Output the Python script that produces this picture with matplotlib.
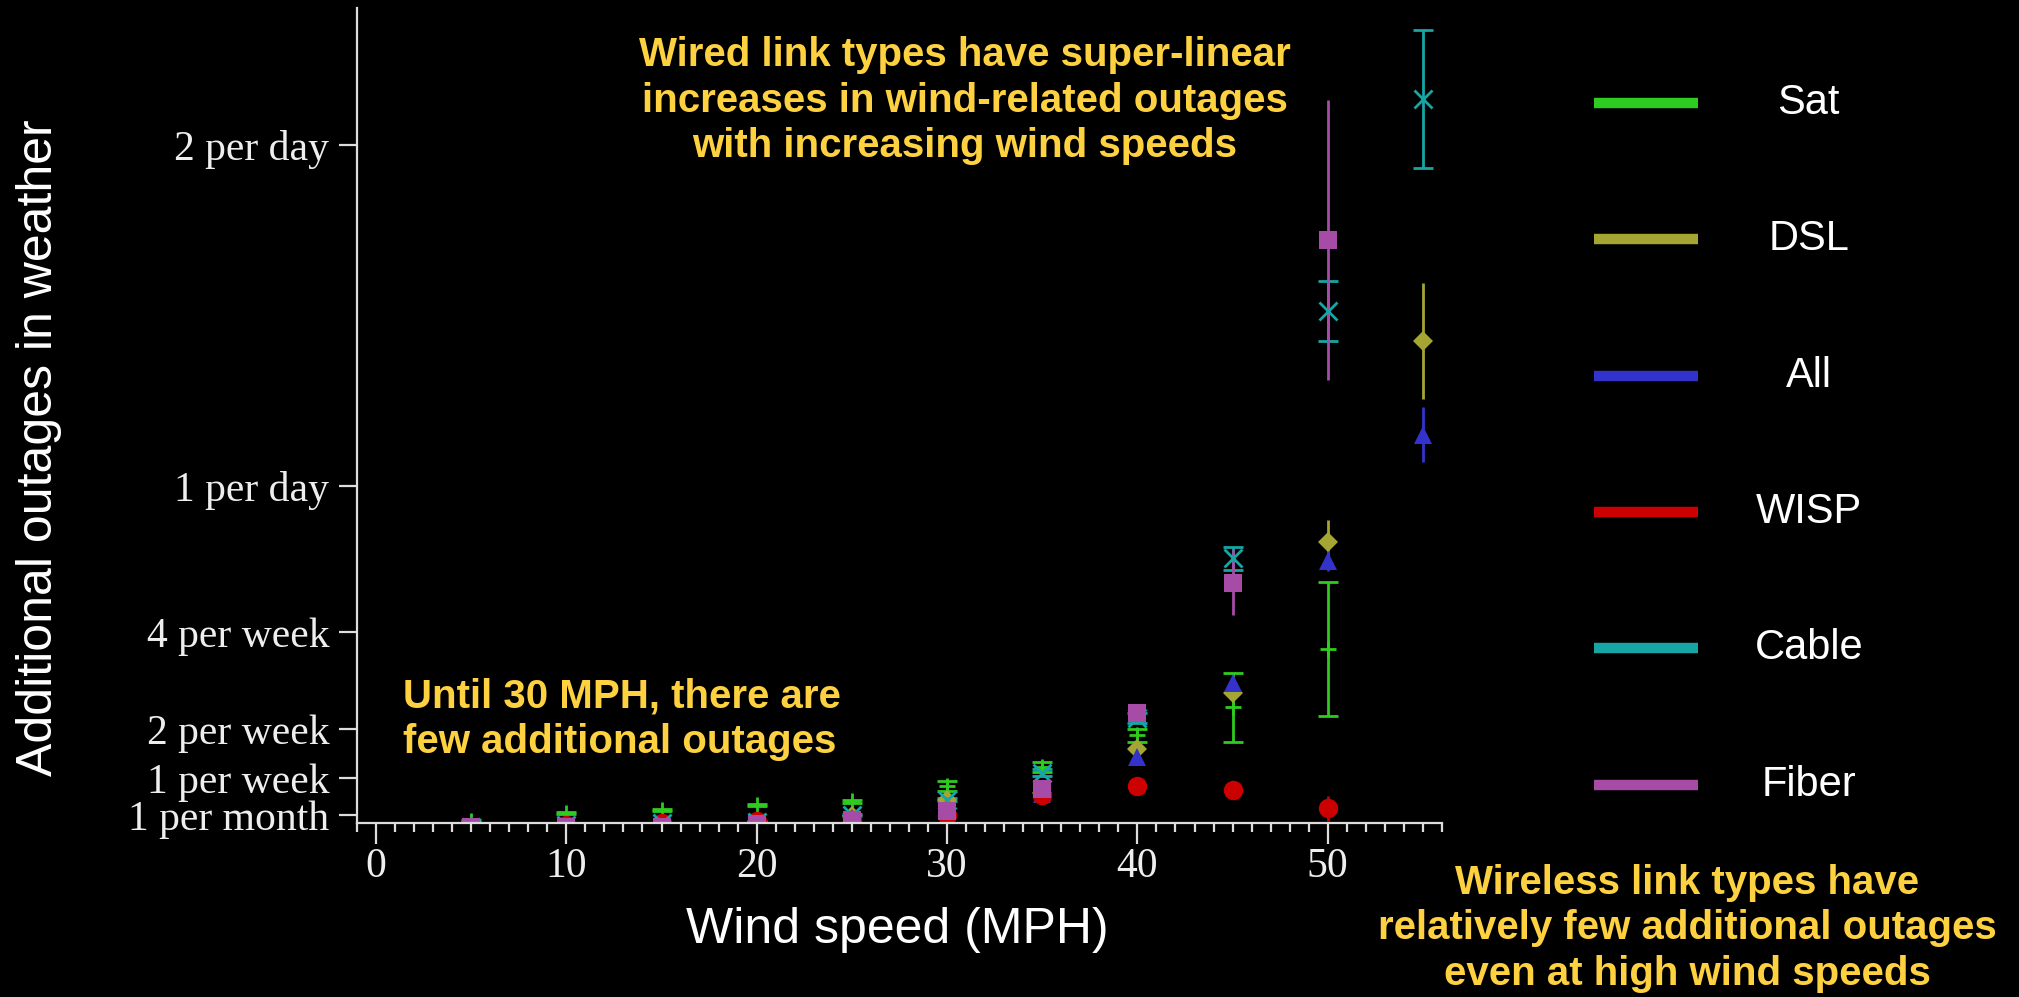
import numpy as np
import matplotlib.pyplot as plt
from matplotlib.ticker import MultipleLocator

nan = np.nan

# wind speed bins (MPH)
wind = [5, 10, 15, 20, 25, 30, 35, 40, 45, 50, 55]

# additional outages per day
sat = [0.018, 0.040, 0.049, 0.063, 0.075, 0.120, 0.176, 0.268, 0.350, 0.522, nan]
sat_err = [0.003, 0.003, 0.003, 0.003, 0.004, 0.015, 0.015, 0.020, 0.100, 0.197, nan]
dsl = [0.0, 0.004, 0.008, 0.015, 0.031, 0.078, 0.100, 0.227, 0.393, 0.836, 1.424]
dsl_err = [0.002, 0.002, 0.002, 0.003, 0.003, 0.005, 0.008, 0.010, 0.022, 0.064, 0.170]
all_ = [0.0, 0.005, 0.010, 0.015, 0.025, 0.060, 0.095, 0.205, 0.422, 0.780, 1.150]
all_err = [0.002, 0.002, 0.002, 0.002, 0.003, 0.004, 0.006, 0.010, 0.015, 0.031, 0.081]
wisp = [0.0, 0.004, 0.011, 0.018, 0.020, 0.035, 0.094, 0.121, 0.108, 0.054, nan]
wisp_err = [0.002, 0.002, 0.002, 0.003, 0.003, 0.004, 0.006, 0.008, 0.023, 0.037, nan]
cable = [0.0, 0.005, 0.010, 0.015, 0.035, 0.080, 0.159, 0.320, 0.787, 1.512, 2.135]
cable_err = [0.002, 0.002, 0.002, 0.002, 0.003, 0.005, 0.010, 0.015, 0.033, 0.087, 0.202]
fiber = [0.0, 0.0, 0.0, 0.007, 0.019, 0.046, 0.111, 0.335, 0.716, 1.720, nan]
fiber_err = [0.001, 0.001, 0.001, 0.002, 0.002, 0.004, 0.006, 0.010, 0.095, 0.410, nan]

names = ['Sat', 'DSL', 'All', 'WISP', 'Cable', 'Fiber']
values = [sat, dsl, all_, wisp, cable, fiber]
errors = [sat_err, dsl_err, all_err, wisp_err, cable_err, fiber_err]
colors = ['#2ecc20', '#a5a533', '#3333cc', '#cc0000', '#17a5a5', '#a64ca6']
markers = ['+', 'D', '^', 'o', 'x', 's']
msizes = [11, 10, 13, 14, 13.5, 13.5]

ytick_vals = [1 / 30, 1 / 7, 2 / 7, 4 / 7, 1, 2]
ytick_labels = ['1 per month', '1 per week', '2 per week', '4 per week',
                '1 per day', '2 per day']

yellow = '#fdd13f'
axcol = '#dddddd'
sans = ['Liberation Sans', 'DejaVu Sans']
serif = ['Liberation Serif', 'DejaVu Serif']

fig = plt.figure(figsize=(20.19, 9.97), dpi=100, facecolor='black')
ax = fig.add_axes([0.1768, 0.1748, 0.5374, 0.8169])
ax.set_facecolor('black')

for name, v, e, c, m, ms in zip(names, values, errors, colors, markers, msizes):
    ax.errorbar(wind, v, yerr=e, fmt=m, color=c, ms=ms, mew=2 if m in '+x' else 0,
                capsize=7, elinewidth=2, capthick=2, label=name)

ax.set_xlim(-1, 56)
ax.set_ylim(0.012, 2.40)
ax.set_xticks(range(0, 51, 10))
ax.xaxis.set_minor_locator(MultipleLocator(1))
ax.set_yticks(ytick_vals)
ax.set_yticklabels(ytick_labels)

for s in ['top', 'right']:
    ax.spines[s].set_visible(False)
for s in ['left', 'bottom']:
    ax.spines[s].set_color(axcol)
    ax.spines[s].set_linewidth(1.6)

ax.tick_params(axis='x', which='major', length=15, width=1.6, color=axcol, pad=3)
ax.tick_params(axis='x', which='minor', length=6.5, width=1.6, color=axcol)
ax.tick_params(axis='y', which='major', length=13, width=1.6, color=axcol, pad=7)
for lab in ax.get_xticklabels() + ax.get_yticklabels():
    lab.set_family(serif)
    lab.set_fontsize(30)
    lab.set_color('#eeeeee')

ax.set_xlabel('Wind speed (MPH)', fontsize=36, color='white', family=sans)
ax.xaxis.label.set_verticalalignment('center')
ax.xaxis.set_label_coords(0.4977, -0.1318)
ax.set_ylabel('Additional outages in weather', fontsize=36, color='white', family=sans)
ax.yaxis.label.set_verticalalignment('center')
ax.yaxis.set_label_coords(-0.293, 0.461)

# legend drawn as a column of thick colour keys with centred labels
lax = fig.add_axes([0.7895, 0.1446, 0.1387, 0.8206])
lax.set_xlim(0, 2.7)
lax.set_ylim(-5.5, 0.5)
lax.axis('off')
for i, (name, c) in enumerate(zip(names, colors)):
    lax.plot([0, 1], [-i, -i], color=c, lw=7.5, solid_capstyle='butt')
    lax.text(2.07, -i, name, ha='center', va='center', fontsize=30,
             color='white', family=sans)

fig.text(0.478, 0.899, 'Wired link types have super-linear\n'
         'increases in wind-related outages\nwith increasing wind speeds',
         ha='center', va='center', fontsize=29, fontweight='bold', color=yellow,
         family=sans, linespacing=1.25)
fig.text(0.1996, 0.2783, 'Until 30 MPH, there are\nfew additional outages',
         ha='left', va='center', fontsize=29, fontweight='bold', color=yellow,
         family=sans, linespacing=1.25)
fig.text(0.8356, 0.0692, 'Wireless link types have\n'
         'relatively few additional outages\neven at high wind speeds',
         ha='center', va='center', fontsize=29, fontweight='bold', color=yellow,
         family=sans, linespacing=1.25)

fig.savefig('out.png', dpi=100, facecolor='black')
